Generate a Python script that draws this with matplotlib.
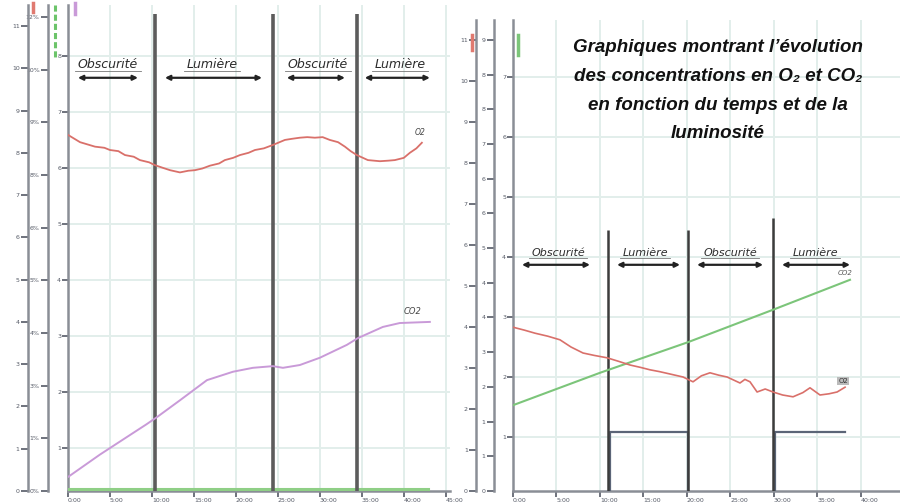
import matplotlib
matplotlib.use("Agg")
import matplotlib.pyplot as plt
from matplotlib.lines import Line2D

# ---------------- DATA ---------------- #
# left panel (time in s, arbitrary units)
left_o2_t = [0, 86, 193, 260, 300, 360, 407, 470, 514, 580, 621, 680, 729, 800, 860, 907,
             960, 1014, 1080, 1121, 1180, 1229, 1290, 1336, 1400, 1464, 1550, 1600, 1657,
             1710, 1764, 1820, 1871, 1930, 1979, 2020, 2064, 2143, 2229, 2290, 2336, 2400,
             2443, 2490, 2529]
left_o2 = [6.59, 6.46, 6.38, 6.36, 6.32, 6.30, 6.23, 6.20, 6.14, 6.10, 6.05, 6.00, 5.96, 5.92,
           5.95, 5.96, 5.99, 6.04, 6.08, 6.14, 6.18, 6.23, 6.27, 6.32, 6.35, 6.41, 6.50, 6.52,
           6.54, 6.55, 6.54, 6.55, 6.50, 6.46, 6.38, 6.30, 6.23, 6.14, 6.12, 6.13, 6.14, 6.18,
           6.27, 6.35, 6.45]
left_co2_t = [0, 228, 443, 560, 636, 800, 993, 1179, 1321, 1464, 1536, 1657, 1800, 1993, 2071,
              2250, 2371, 2586]
left_co2 = [0.48, 0.88, 1.23, 1.42, 1.55, 1.85, 2.21, 2.36, 2.43, 2.46, 2.43, 2.48, 2.61, 2.84,
            2.96, 3.16, 3.23, 3.25]
left_light_t = [0, 2571]
left_light = [0.27, 0.27]
left_switch = [621, 1464, 2064]

# right panel
right_co2_t = [0, 600, 1207, 1793, 2325]
right_co2 = [1.53, 2.07, 2.58, 3.12, 3.62]
right_o2_t = [0, 80, 152, 240, 324, 400, 483, 560, 649, 730, 807, 880, 945, 1010, 1083, 1173,
              1242, 1300, 1359, 1420, 1477, 1566, 1600, 1635, 1684, 1740, 1794, 1860, 1932,
              2000, 2049, 2118, 2180, 2236, 2291]
right_o2 = [2.83, 2.78, 2.73, 2.68, 2.62, 2.50, 2.40, 2.36, 2.32, 2.26, 2.20, 2.16, 2.12, 2.09,
            2.05, 2.00, 1.92, 2.02, 2.07, 2.03, 2.00, 1.90, 1.96, 1.92, 1.75, 1.80, 1.75, 1.70,
            1.67, 1.74, 1.82, 1.70, 1.72, 1.75, 1.83]
right_light_t = [0, 669, 669, 1207, 1207, 1808, 1808, 2291]
right_light = [0, 0, 1.08, 1.08, 0, 0, 1.08, 1.08]
right_switch = [655, 1207, 1793]
right_switch_top = [4.45, 4.45, 4.65]

periods = ["Obscurité", "Lumière", "Obscurité", "Lumière"]
left_label_x = [286, 1029, 1786, 2371]
left_arrows = [(71, 500), (693, 1386), (1564, 1979), (2121, 2586)]
right_label_x = [311, 911, 1497, 2084]
right_arrows = [(62, 531), (718, 1152), (1270, 1725), (1856, 2325)]

x_labels = ["0:00", "5:00", "10:00", "15:00", "20:00", "25:00", "30:00", "35:00", "40:00", "45:00"]

title_lines = ["Graphiques montrant l\u2019évolution",
               "des concentrations en O\u2082 et CO\u2082",
               "en fonction du temps et de la",
               "luminosité"]

GRID = "#e2eeeb"
SPINE = "#8a8e96"
TICKC = "#555a66"
SWITCH = "#5c5c5c"


def style_main(ax, xmax, ymin, ymax):
    ax.set_xlim(0, xmax)
    ax.set_ylim(ymin, ymax)
    xt = [300 * i for i in range(len(x_labels)) if 300 * i <= xmax]
    ax.set_xticks(xt)
    ax.set_xticklabels(x_labels[:len(xt)], fontsize=4.5, color=TICKC, ha="left")
    yt = list(range(1, int(ymax) + 1))
    ax.set_yticks(yt)
    ax.set_yticklabels([str(v) for v in yt], fontsize=4.5, color=TICKC)
    ax.tick_params(length=4, width=1.2, color=TICKC, pad=1)
    ax.grid(True, color=GRID, lw=1.4)
    for s in ["top", "right"]:
        ax.spines[s].set_visible(False)
    for s in ["left", "bottom"]:
        ax.spines[s].set_color(SPINE)
        ax.spines[s].set_linewidth(1.8)


def extra_axis(ax, offset, ymax, step, fmt):
    tw = ax.twinx()
    tw.spines["right"].set_visible(False)
    tw.spines["top"].set_visible(False)
    tw.spines["bottom"].set_visible(False)
    tw.spines["left"].set_visible(True)
    tw.spines["left"].set_position(("outward", offset))
    tw.spines["left"].set_color(SPINE)
    tw.spines["left"].set_linewidth(1.8)
    tw.yaxis.set_ticks_position("left")
    tw.yaxis.set_label_position("left")
    tw.set_ylim(0, ymax)
    ticks = [step * i for i in range(int(ymax / step) + 1)]
    tw.set_yticks(ticks)
    tw.set_yticklabels([fmt.format(t) for t in ticks], fontsize=4.5, color=TICKC)
    tw.tick_params(length=5, width=1.2, color=TICKC, pad=1)
    return tw


def periods_annot(ax, xs, arrows, y_text, y_arrow, fs, ul_w):
    for name, cx, (a, b) in zip(periods, xs, arrows):
        ax.text(cx, y_text, name, fontsize=fs, style="italic", color="#2b2b2b",
                ha="center", va="center", family="DejaVu Sans")
        w = ul_w if name == "Obscurité" else ul_w * 0.85
        ax.plot([cx - w / 2, cx + w / 2], [y_text - (y_text - y_arrow) * 0.45] * 2,
                color="#777", lw=0.6)
        ax.annotate("", xy=(a, y_arrow), xytext=(b, y_arrow),
                    arrowprops=dict(arrowstyle="<|-|>", color="#222", lw=1.6,
                                    mutation_scale=7, shrinkA=0, shrinkB=0))


fig = plt.figure(figsize=(9, 5.04), dpi=100)

# ---------------- LEFT PANEL ---------------- #
axl = fig.add_axes([68 / 900, 13 / 504, 382 / 900, 486 / 504])
style_main(axl, 2730, 0.23, 8.91)
extra_axis(axl, 14.4, 12, 1.3, "{:.0f}%")
extra_axis(axl, 28.8, 11.5, 1.0, "{:.0f}")

axl.vlines(left_switch, 0, 8.75, color=SWITCH, lw=2.6, zorder=4)
axl.plot(left_light_t, left_light, color="#8fcf86", lw=2.2, zorder=3)
axl.plot(left_o2_t, left_o2, color="#d9706a", lw=1.3, zorder=5)
axl.plot(left_co2_t, left_co2, color="#c99ad8", lw=1.4, zorder=5)
axl.text(2514, 6.58, "O2", fontsize=5.5, style="italic", color="#444", ha="center")
axl.text(2464, 3.40, "CO2", fontsize=6, style="italic", color="#444", ha="center")
periods_annot(axl, left_label_x, left_arrows, 7.84, 7.61, 9, 470)

# ---------------- RIGHT PANEL ---------------- #
axr = fig.add_axes([513 / 900, 13 / 504, 387 / 900, 471 / 504])
style_main(axr, 2670, 0.1, 7.95)
extra_axis(axr, 13.7, 9.5, 0.7, "{:.0f}")
extra_axis(axr, 26.6, 11.5, 1.0, "{:.0f}")

for xs, top in zip(right_switch, right_switch_top):
    axr.vlines(xs, 0, top, color="#3c3c3c", lw=1.8, zorder=4)
axr.plot(right_light_t, right_light, color="#5b6577", lw=1.6, zorder=3)
axr.plot(right_co2_t, right_co2, color="#7cc57a", lw=1.5, zorder=5)
axr.plot(right_o2_t, right_o2, color="#d9706a", lw=1.2, zorder=5)
axr.text(2291, 3.70, "CO2", fontsize=5, style="italic", color="#555", ha="center")
axr.text(2277, 1.90, "O2", fontsize=5, color="#333", ha="center",
         bbox=dict(boxstyle="square,pad=0.1", fc="#bbbbbb", ec="none"))
periods_annot(axr, right_label_x, right_arrows, 4.07, 3.87, 8, 400)

# small legend colour marks at the top of the axes
fig.add_artist(Line2D([55 / 900, 55 / 900], [1 - 5 / 504, 1 - 60 / 504],
                      color="#6cc46a", lw=2.2, ls=(0, (2, 1))))
fig.add_artist(Line2D([33 / 900, 33 / 900], [1 - 3 / 504, 1 - 12 / 504],
                      color="#e07a70", lw=2.5))
fig.add_artist(Line2D([75 / 900, 75 / 900], [1 - 3 / 504, 1 - 14 / 504],
                      color="#c99ad8", lw=2.5))
fig.add_artist(Line2D([472 / 900, 472 / 900], [1 - 35 / 504, 1 - 50 / 504],
                      color="#e07a70", lw=2.5))
fig.add_artist(Line2D([518 / 900, 518 / 900], [1 - 35 / 504, 1 - 55 / 504],
                      color="#7cc57a", lw=2.5))

# ---------------- TITLE ---------------- #
for i, line in enumerate(title_lines):
    fig.text(718 / 900, 1 - (48 + 28.5 * i) / 504, line, ha="center", va="center",
             fontsize=13.5, fontweight="bold", style="italic", color="#111",
             family=["Liberation Sans", "DejaVu Sans"])

fig.savefig("out.png", dpi=100)
